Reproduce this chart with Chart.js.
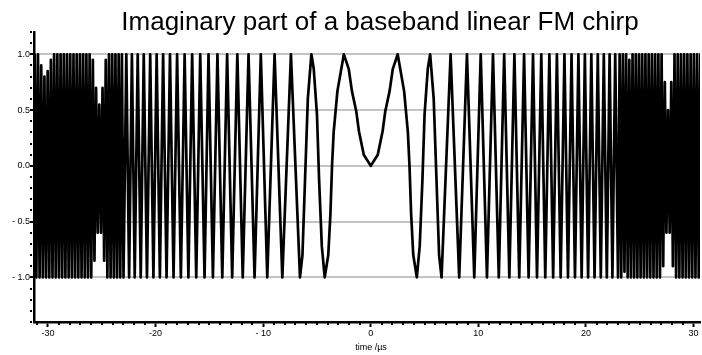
<!DOCTYPE html>
<html>
<head>
<meta charset="utf-8">
<title>Imaginary part of a baseband linear FM chirp</title>
<script src="https://cdn.jsdelivr.net/npm/chart.js@4/dist/chart.umd.min.js"></script>
<style>
  html, body { margin: 0; padding: 0; background: #fff; }
  #wrap { width: 702px; height: 355px; position: relative; }
</style>
</head>
<body>
<div id="wrap"><canvas id="chirpChart" width="702" height="355"></canvas></div>
<script>
// time axis in microseconds, turning points
// core part, t >= 0 (the trace is mirrored around t = 0)
const coreTimes = [0, 0.65, 1.1, 1.35, 1.75, 2.05, 2.5, 3.1, 3.45, 3.6, 3.75, 3.95, 4.28, 4.55, 4.8, 5.0, 5.3, 5.52,
  5.85, 6.1, 6.35, 6.58, 7.42, 8.22, 8.94, 9.62, 10.22, 10.8, 11.36, 11.9, 12.4, 12.88, 13.35, 13.8, 14.25, 14.67,
  15.08, 15.45, 15.85, 16.22, 16.6, 16.95, 17.3, 17.65, 18.0, 18.33, 18.66, 18.98, 19.3, 19.6, 19.9, 20.2, 20.5,
  20.8, 21.1, 21.38, 21.66, 21.94, 22.2, 22.46, 22.72, 22.98];
const coreValues = [0, 0.1, 0.31, 0.49, 0.67, 0.87, 1, 0.67, 0.3, 0, -0.43, -0.8, -1, -0.72, -0.13, 0.46, 0.87, 1,
  0.6, -0.1, -0.8, -1, 1, -1, 1, -1, 1, -1, 1, -1, 1, -1, 1, -1, 1, -1,
  1, -1, 1, -1, 1, -1, 1, -1, 1, -1, 1, -1, 1, -1, 1, -1, 1,
  -1, 1, -1, 1, -1, 1, -1, 1, -1];

// dense (aliased) ends of the trace
const leftEdgeTimes = [-31.53, -31.38, -31.23, -31.08, -30.93, -30.78, -30.63, -30.48, -30.33, -30.18, -30.03,
  -29.88, -29.73, -29.58, -29.43, -29.28, -29.13, -28.98, -28.83, -28.68, -28.53, -28.38, -28.23, -28.08, -27.93,
  -27.78, -27.63, -27.48, -27.33, -27.18, -27.03, -26.88, -26.73, -26.58, -26.43, -26.28, -26.13, -25.98, -25.83,
  -25.68, -25.53, -25.38, -25.23, -25.08, -24.93, -24.78, -24.63, -24.48, -24.33, -24.18, -24.03, -23.88, -23.73,
  -23.58, -23.43, -23.28, -23.13];
const leftEdgeValues = [1, -1, 1, -1, 1, -1, 0.9, -1, 0.8, -1, 0.85,
  -1, 0.95, -1, 1, -1, 1, -1, 1, -1, 1, -1, 1, -1, 1,
  -1, 1, -1, 1, -1, 1, -1, 1, -1, 1, -1, 1, -1, 0.95,
  -0.85, 0.7, -0.6, 0.55, -0.6, 0.7, -0.85, 0.95, -1, 1, -1, 1, -1, 1,
  -1, 1, -1, 1];

const rightEdgeTimes = [23.13, 23.28, 23.43, 23.58, 23.73, 23.88, 24.03, 24.18, 24.33, 24.48, 24.63, 24.78, 24.93,
  25.08, 25.23, 25.38, 25.53, 25.68, 25.83, 25.98, 26.13, 26.28, 26.43, 26.58, 26.73, 26.88, 27.03, 27.18, 27.33,
  27.48, 27.63, 27.78, 27.93, 28.08, 28.23, 28.38, 28.53, 28.68, 28.83, 28.98, 29.13, 29.28, 29.43, 29.58, 29.73,
  29.88, 30.03, 30.18, 30.33, 30.48, 30.63, 30.78];
const rightEdgeValues = [1, -1, 1, -0.95, 1, -1, 0.95, -1, 1, -1, 1, -1, 1,
  -1, 1, -1, 1, -1, 1, -1, 1, -1, 1, -1, 1, -1, 1, -0.9, 0.75,
  -0.6, 0.5, -0.6, 0.75, -0.9, 1, -1, 1, -1, 1, -1, 1, -1, 1, -1, 1,
  -1, 1, -1, 1, -1, 1, -1];

const xTickValues = [-30, -20, -10, 0, 10, 20, 30];
const xTickLabels = ["-30", "-20", "- 10", "0", "10", "20", "30"];
const yTickValues = [-1, -0.5, 0, 0.5, 1];
const yTickLabels = ["- 1.0", "- 0.5", "0.0", "0.5", "1.0"];

document.addEventListener("DOMContentLoaded", () => {
  const ctx = document.getElementById("chirpChart").getContext("2d");

  // assemble the whole trace from left to right
  const points = [];
  leftEdgeTimes.forEach((t, i) => points.push({ x: t, y: leftEdgeValues[i] }));
  for (let i = coreTimes.length - 1; i > 0; i--) points.push({ x: -coreTimes[i], y: coreValues[i] });
  coreTimes.forEach((t, i) => points.push({ x: t, y: coreValues[i] }));
  rightEdgeTimes.forEach((t, i) => points.push({ x: t, y: rightEdgeValues[i] }));

  const tickFont = { family: "'Liberation Sans Narrow', 'Liberation Sans', Arial, sans-serif", size: 9 };

  // title, axis title and the small minor ticks
  const decorations = {
    id: "decorations",
    afterDraw(chart) {
      const c = chart.ctx;
      const xs = chart.scales.x;
      const ys = chart.scales.y;
      c.save();
      c.fillStyle = "#000";
      for (let t = -31; t <= 30; t++) {
        if (t % 10 === 0) continue;
        c.fillRect(Math.round(xs.getPixelForValue(t)) - 1, chart.chartArea.bottom + 1, 2, 2);
      }
      for (let v = -14; v <= 12; v++) {
        if (v % 5 === 0) continue;
        c.fillRect(chart.chartArea.left - 4, Math.round(ys.getPixelForValue(v / 10)) - 1, 2, 2);
      }
      c.font = "26px 'Liberation Sans', Arial, sans-serif";
      c.textAlign = "center";
      c.textBaseline = "alphabetic";
      c.fillText("Imaginary part of a baseband linear FM chirp", 380, 30);
      c.font = "9px 'Liberation Sans Narrow', 'Liberation Sans', Arial, sans-serif";
      c.textBaseline = "middle";
      c.fillText("time /\u00b5s", 371, 348);
      c.restore();
    },
  };

  const data = {
    datasets: [
      {
        label: "Imaginary part",
        data: points,
        borderColor: "#000",
        borderWidth: 2.7,
        borderJoinStyle: "round",
        borderCapStyle: "round",
        pointRadius: 0,
        tension: 0,
        fill: false,
      },
    ],
  };

  const options = {
    responsive: false,
    animation: false,
    parsing: false,
    layout: { padding: { top: 32, right: 2, bottom: 0, left: 0 } },
    plugins: {
      legend: { display: false },
      tooltip: { enabled: false },
      title: { display: false },
    },
    scales: {
      x: {
        type: "linear",
        min: -31.3,
        max: 30.6,
        afterFit(scale) { scale.height = 33; },
        afterBuildTicks(scale) { scale.ticks = xTickValues.map((v) => ({ value: v })); },
        ticks: {
          font: tickFont,
          color: "#000",
          padding: 1,
          maxRotation: 0,
          autoSkip: false,
          callback: (v) => xTickLabels[xTickValues.indexOf(v)],
        },
        grid: { display: true, drawOnChartArea: false, drawTicks: true, tickLength: 5, tickColor: "#000", tickWidth: 2 },
        border: { display: true, color: "#000", width: 2.5 },
      },
      y: {
        type: "linear",
        min: -1.4,
        max: 1.2,
        afterFit(scale) { scale.width = 34; },
        afterBuildTicks(scale) { scale.ticks = yTickValues.map((v) => ({ value: v })); },
        ticks: {
          font: tickFont,
          color: "#000",
          padding: 0,
          autoSkip: false,
          callback: (v) => yTickLabels[yTickValues.indexOf(v)],
        },
        grid: { color: "#c4c4c4", lineWidth: 2, drawTicks: true, tickLength: 4, tickColor: "#000", tickWidth: 2 },
        border: { display: true, color: "#000", width: 2.5 },
      },
    },
  };

  new Chart(ctx, {
    type: "line",
    data: data,
    options: options,
    plugins: [decorations],
  });
});
</script>
</body>
</html>
